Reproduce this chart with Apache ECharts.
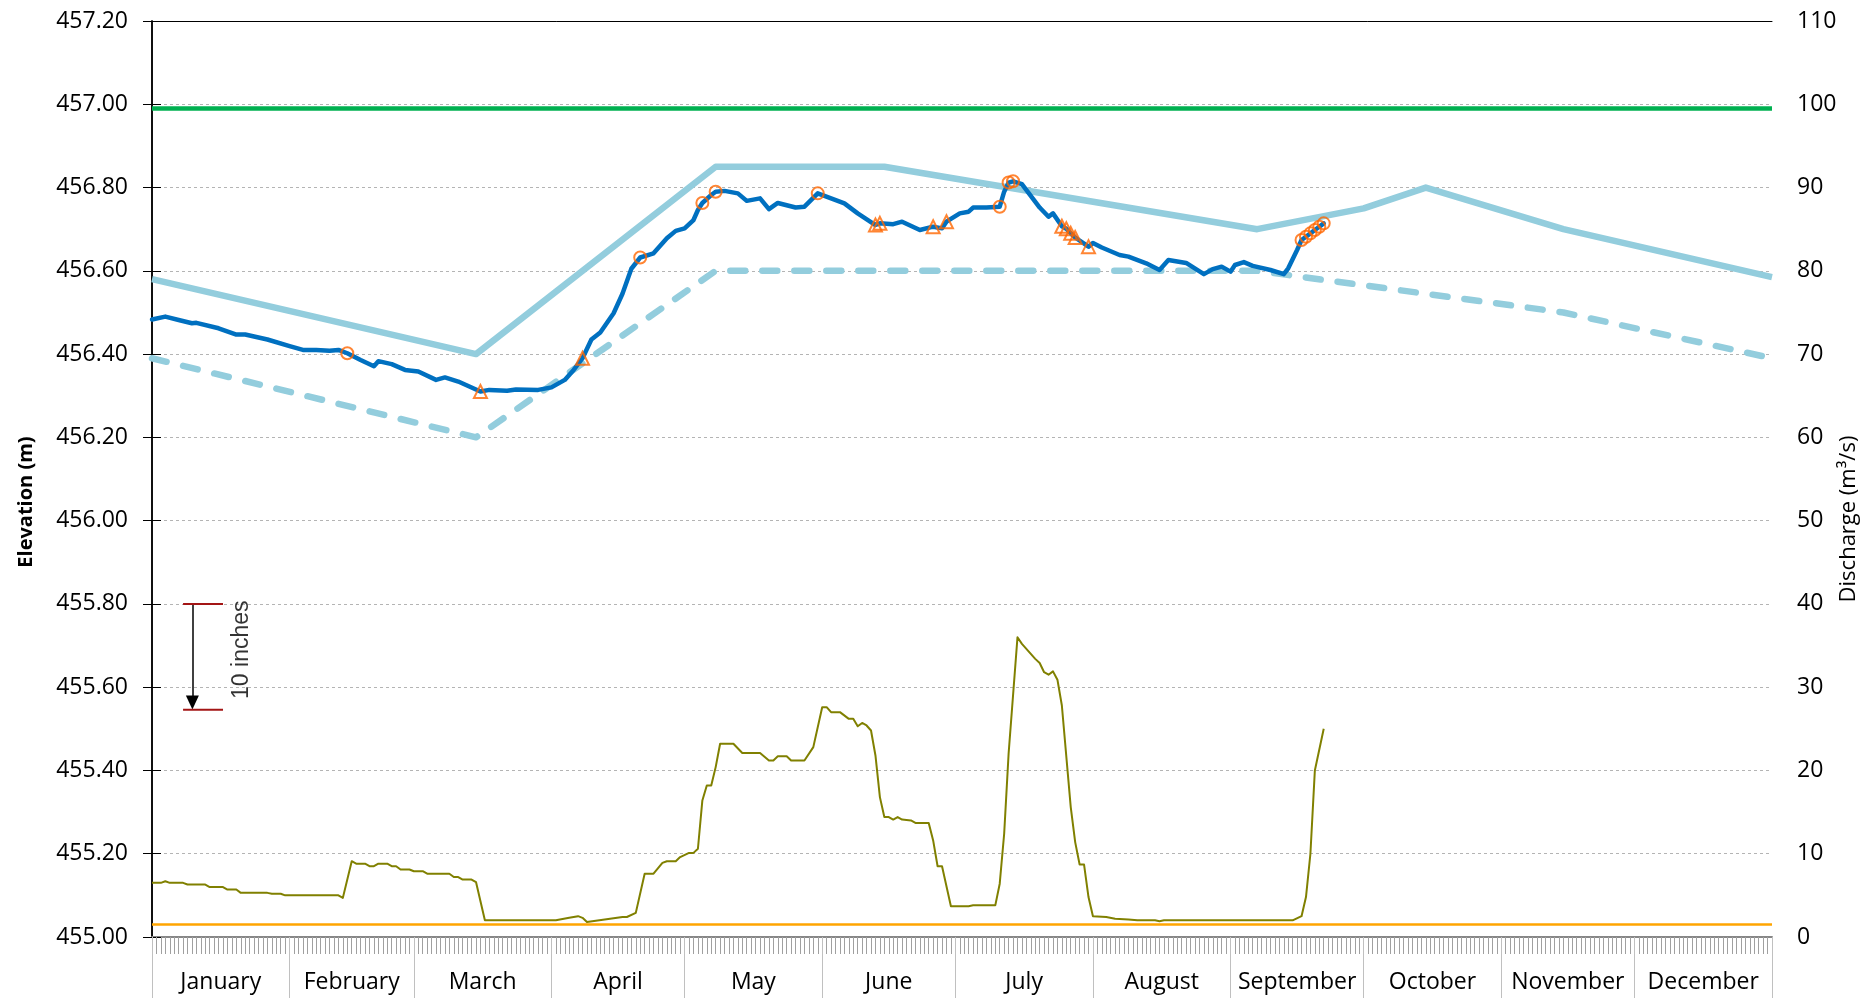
<!DOCTYPE html>
<html>
<head>
<meta charset="utf-8">
<title>Elevation and Discharge</title>
<script src="https://cdn.jsdelivr.net/npm/echarts@6/dist/echarts.min.js"></script>
<style>
    html, body { margin: 0; padding: 0; background: #fff; }
    #chart { width: 1864px; height: 998px; }
</style>
</head>
<body>
<div id="chart"></div>
<script>
// 图表数据 (x = 一年中的第几天, 0 = 1月1日)

const months = ['January', 'February', 'March', 'April', 'May', 'June',
    'July', 'August', 'September', 'October', 'November', 'December'];
const monthStarts = [0, 31, 59, 90, 120, 151, 181, 212, 243, 273, 304, 334, 365];

// 上限 / 下限水位 (m)
const upperRule = [[0, 456.58], [73, 456.40], [127, 456.85], [165, 456.85], [249, 456.70],
    [273, 456.75], [287, 456.80], [318, 456.70], [365, 456.585]];
const lowerRule = [[0, 456.39], [73, 456.20], [127, 456.60], [249, 456.60], [318, 456.50], [365, 456.39]];
const topLine = [[0, 456.99], [365, 456.99]];

// 实测水位 (m)
const elevation = [[0, 456.483], [3, 456.490], [6, 456.482], [9, 456.474], [10, 456.475], [15, 456.462],
    [19, 456.447], [21, 456.447], [26, 456.435], [31, 456.419], [34, 456.410], [37, 456.410], [40, 456.408],
    [42, 456.410], [44, 456.402], [47, 456.386], [50, 456.371], [51, 456.383], [54, 456.376], [57, 456.362],
    [60, 456.358], [64, 456.338], [66, 456.344], [69, 456.334], [74, 456.310], [76, 456.314], [80, 456.312],
    [82, 456.315], [87, 456.314], [90, 456.320], [93, 456.338], [95, 456.362], [97, 456.390], [99, 456.435],
    [101, 456.452], [104, 456.498], [106, 456.545], [108, 456.605], [110, 456.632], [113, 456.642],
    [116, 456.678], [118, 456.696], [120, 456.702], [122, 456.722], [123, 456.746], [124, 456.763],
    [126, 456.782], [127, 456.790], [129, 456.792], [132, 456.786], [134, 456.768], [137, 456.774],
    [139, 456.748], [141, 456.763], [145, 456.752], [147, 456.754], [150, 456.786], [153, 456.774],
    [156, 456.762], [159, 456.738], [163, 456.710], [164, 456.714], [167, 456.712], [169, 456.718],
    [173, 456.698], [176, 456.706], [178, 456.702], [179, 456.718], [182, 456.738], [184, 456.742],
    [185, 456.752], [188, 456.752], [191, 456.754], [192, 456.790], [193, 456.812], [194, 456.815],
    [196, 456.808], [198, 456.780], [200, 456.752], [202, 456.730], [203, 456.738], [205, 456.707],
    [206, 456.701], [207, 456.690], [208, 456.680], [211, 456.658], [212, 456.667], [214, 456.656],
    [218, 456.638], [220, 456.634], [224, 456.618], [227, 456.602], [229, 456.626], [233, 456.619],
    [237, 456.592], [239, 456.604], [241, 456.610], [243, 456.598], [244, 456.614], [246, 456.621],
    [248, 456.612], [252, 456.602], [255, 456.592], [256, 456.606], [258, 456.650], [259, 456.674],
    [260, 456.682], [261, 456.690], [262, 456.698], [263, 456.706], [264, 456.714]];

// 标记点
const circleMarks = [[44, 456.402], [110, 456.632], [124, 456.763], [127, 456.790], [150, 456.786],
    [191, 456.754], [193, 456.812], [194, 456.815], [259, 456.674], [260, 456.682], [261, 456.690],
    [262, 456.698], [263, 456.706], [264, 456.714]];
const triangleMarks = [[74, 456.310], [97, 456.390], [163, 456.710], [164, 456.714], [176, 456.706],
    [179, 456.718], [205, 456.707], [206, 456.701], [207, 456.690], [208, 456.680], [211, 456.658]];

// 流量 (m3/s)
const discharge = [[0, 6.5], [2, 6.5], [3, 6.7], [4, 6.5], [7, 6.5], [8, 6.3], [12, 6.3], [13, 6.0],
    [16, 6.0], [17, 5.7], [19, 5.7], [20, 5.3], [26, 5.3], [27, 5.2], [29, 5.2], [30, 5.0], [42, 5.0],
    [43, 4.7], [45, 9.1], [46, 8.8], [48, 8.8], [49, 8.5], [50, 8.5], [51, 8.8], [53, 8.8], [54, 8.5],
    [55, 8.5], [56, 8.1], [58, 8.1], [59, 7.9], [61, 7.9], [62, 7.6], [67, 7.6], [68, 7.2], [69, 7.2],
    [70, 6.9], [72, 6.9], [73, 6.6], [75, 2.0], [91, 2.0], [94, 2.3], [95, 2.4], [96, 2.5], [97, 2.3],
    [98, 1.8], [102, 2.1], [106, 2.4], [107, 2.4], [109, 2.9], [111, 7.6], [113, 7.6], [115, 8.9],
    [116, 9.1], [118, 9.1], [119, 9.6], [121, 10.1], [122, 10.1], [123, 10.6], [124, 16.4], [125, 18.2],
    [126, 18.2], [127, 20.4], [128, 23.2], [131, 23.2], [133, 22.1], [137, 22.1], [139, 21.2], [140, 21.2],
    [141, 21.7], [143, 21.7], [144, 21.2], [147, 21.2], [149, 22.8], [151, 27.6], [152, 27.6], [153, 27.0],
    [155, 27.0], [157, 26.2], [158, 26.2], [159, 25.3], [160, 25.7], [161, 25.4], [162, 24.8], [163, 21.8],
    [164, 16.8], [165, 14.4], [166, 14.4], [167, 14.1], [168, 14.4], [169, 14.1], [171, 14.0], [172, 13.7],
    [175, 13.7], [176, 11.6], [177, 8.5], [178, 8.5], [180, 3.7], [184, 3.7], [185, 3.8], [190, 3.8],
    [191, 6.4], [192, 12.4], [193, 22.0], [195, 36.0], [196, 35.2], [199, 33.4], [200, 32.9], [201, 31.8],
    [202, 31.5], [203, 31.9], [204, 30.9], [205, 27.8], [207, 15.6], [208, 11.4], [209, 8.7], [210, 8.7],
    [211, 4.8], [212, 2.5], [215, 2.4], [217, 2.2], [220, 2.1], [222, 2.0], [226, 2.0], [227, 1.9],
    [228, 2.0], [257, 2.0], [259, 2.5], [260, 4.8], [261, 10.0], [262, 20.0], [264, 25.0]];
const minFlow = [[0, 1.5], [365, 1.5]];

// "10 inches" 标注
const scaleDays = [7, 16];
const scaleArrowDay = 9.1;
const scaleTop = 455.80;
const scaleBottom = 455.546;
const scaleText = [[20.3, 455.69]];

const font = "'Open Sans', 'Noto Sans', sans-serif";

const chartColors = {
    rule: '#93cddd',
    elevation: '#0070c0',
    top: '#00b050',
    flow: '#808000',
    minFlow: '#ffa500',
    marker: '#ff6600',
    scale: '#a31515'
};

const chart = echarts.init(document.getElementById('chart'));

const monthMids = months.map((m, i) => (monthStarts[i] + monthStarts[i + 1]) / 2);

const option = {
    animation: false,
    grid: {
        left: 152,
        right: 92,
        top: 21,
        bottom: 61,
        outerBoundsMode: 'none',
        containLabel: false
    },
    xAxis: [
        {
            // 每日刻度
            type: 'value',
            min: 0,
            max: 365,
            interval: 1,
            position: 'bottom',
            axisLine: { lineStyle: { color: '#868686', width: 2 } },
            axisTick: { length: 17, lineStyle: { color: '#a0a0a0', width: 1 } },
            axisLabel: { show: false },
            splitLine: { show: false }
        },
        {
            // 月份分隔与标签
            type: 'value',
            min: 0,
            max: 365,
            position: 'bottom',
            axisLine: { show: false },
            axisTick: {
                show: true,
                customValues: monthStarts,
                length: 62,
                lineStyle: { color: '#c0c0c0', width: 1 }
            },
            axisLabel: {
                customValues: monthMids,
                margin: 34,
                fontFamily: font,
                fontSize: 23,
                color: '#000',
                formatter: function (v) {
                    const i = monthMids.findIndex(m => Math.abs(m - v) < 0.01);
                    return i >= 0 ? months[i] : '';
                }
            },
            splitLine: { show: false }
        },
        {
            // 顶部边框
            type: 'value',
            min: 0,
            max: 365,
            position: 'top',
            axisLine: { lineStyle: { color: '#000', width: 1 } },
            axisTick: { show: false },
            axisLabel: { show: false },
            splitLine: { show: false }
        }
    ],
    yAxis: [
        {
            type: 'value',
            position: 'left',
            min: 455,
            max: 457.2,
            interval: 0.2,
            name: 'Elevation (m)',
            nameLocation: 'middle',
            nameGap: 116,
            nameMoveOverlap: false,
            nameTextStyle: {
                fontFamily: font,
                fontSize: 20,
                fontWeight: 'bold',
                color: '#000',
                padding: [0, 46, 0, 0]
            },
            axisLine: { show: true, lineStyle: { color: '#000', width: 1.5 } },
            axisTick: { show: true, length: 9, lineStyle: { color: '#000' } },
            axisLabel: {
                margin: 24,
                fontFamily: font,
                fontSize: 23,
                color: '#000',
                formatter: v => v.toFixed(2)
            },
            splitLine: {
                show: true,
                lineStyle: { color: '#b4b4b4', type: [3, 3], width: 1 }
            }
        },
        {
            type: 'value',
            position: 'right',
            min: 0,
            max: 110,
            interval: 10,
            name: 'Discharge (m³/s)',
            nameLocation: 'middle',
            nameGap: 66,
            nameMoveOverlap: false,
            nameTextStyle: {
                fontFamily: font,
                fontSize: 22,
                color: '#000',
                padding: [0, 80, 0, 0]
            },
            axisLine: { show: true, lineStyle: { color: '#000', width: 1.5 } },
            axisTick: { show: true, length: 9, lineStyle: { color: '#000' } },
            axisLabel: {
                margin: 25,
                fontFamily: font,
                fontSize: 23,
                color: '#000'
            },
            splitLine: { show: false }
        }
    ],
    series: [
        {
            name: 'Upper rule',
            type: 'line',
            data: upperRule,
            showSymbol: false,
            lineStyle: { color: chartColors.rule, width: 6.5, join: 'round' },
            z: 2
        },
        {
            name: 'Lower rule',
            type: 'line',
            data: lowerRule,
            showSymbol: false,
            lineStyle: { color: chartColors.rule, width: 6.5, type: [15, 17], cap: 'round', join: 'round' },
            z: 2
        },
        {
            name: 'Top',
            type: 'line',
            data: topLine,
            showSymbol: false,
            lineStyle: { color: chartColors.top, width: 4.5 },
            z: 3
        },
        {
            name: 'Minimum flow',
            type: 'line',
            yAxisIndex: 1,
            data: minFlow,
            showSymbol: false,
            lineStyle: { color: chartColors.minFlow, width: 2.5 },
            z: 3
        },
        {
            name: 'Discharge',
            type: 'line',
            yAxisIndex: 1,
            data: discharge,
            showSymbol: false,
            lineStyle: { color: chartColors.flow, width: 2, join: 'round' },
            z: 4
        },
        {
            name: 'Elevation',
            type: 'line',
            data: elevation,
            showSymbol: false,
            lineStyle: { color: chartColors.elevation, width: 4.5, join: 'round', cap: 'round' },
            z: 5
        },
        {
            name: 'Circles',
            type: 'scatter',
            data: circleMarks,
            symbol: 'circle',
            symbolSize: 12,
            itemStyle: { borderColor: chartColors.marker, borderWidth: 2, color: 'rgba(0,0,0,0)' },
            z: 6
        },
        {
            name: 'Triangles',
            type: 'scatter',
            data: triangleMarks,
            symbol: 'triangle',
            symbolSize: 13,
            itemStyle: { borderColor: chartColors.marker, borderWidth: 2, color: 'rgba(0,0,0,0)' },
            z: 6
        },
        // 10 inches 标尺
        {
            name: 'Scale top',
            type: 'line',
            data: scaleDays.map(d => [d, scaleTop]),
            showSymbol: false,
            lineStyle: { color: chartColors.scale, width: 2 },
            z: 6,
            markLine: {
                silent: true,
                symbol: ['none', 'triangle'],
                symbolSize: [13, 14],
                label: { show: false },
                lineStyle: { color: '#000', width: 1.5, type: 'solid' },
                data: [[
                    { coord: [scaleArrowDay, scaleTop] },
                    { coord: [scaleArrowDay, scaleBottom + 0.017] }
                ]]
            }
        },
        {
            name: 'Scale bottom',
            type: 'line',
            data: scaleDays.map(d => [d, scaleBottom]),
            showSymbol: false,
            lineStyle: { color: chartColors.scale, width: 2 },
            z: 6
        },
        {
            name: 'Scale text',
            type: 'scatter',
            data: scaleText,
            symbolSize: 0,
            silent: true,
            label: {
                show: true,
                position: 'inside',
                rotate: 90,
                formatter: '10 inches',
                fontFamily: "'Liberation Sans', Arial, sans-serif",
                fontSize: 23,
                color: '#000'
            },
            z: 6
        }
    ]
};

chart.setOption(option);

window.addEventListener('resize', function () {
    chart.resize();
});
</script>
</body>
</html>
